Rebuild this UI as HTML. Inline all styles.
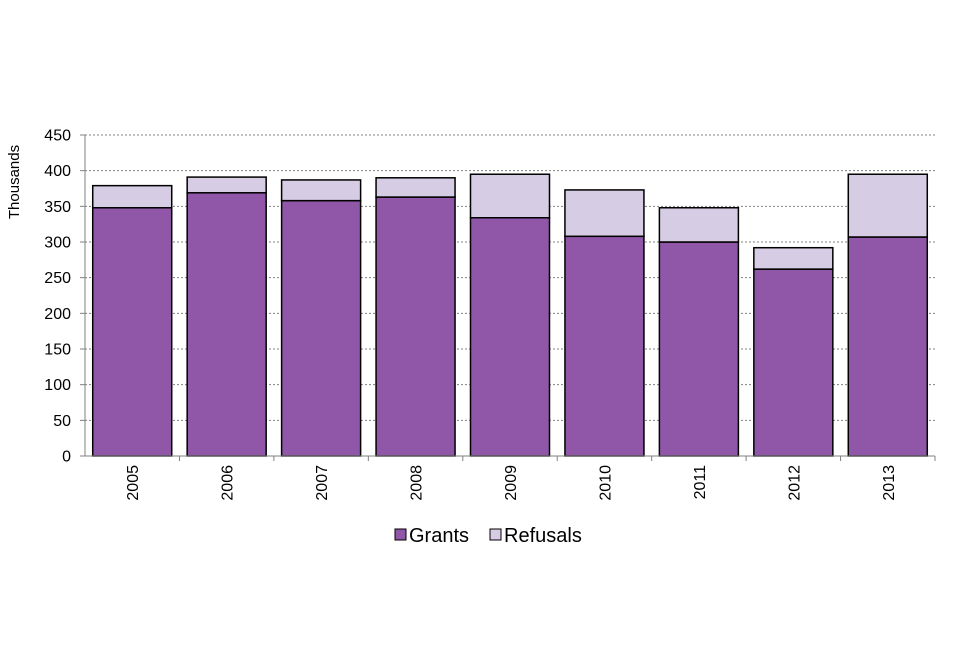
<!DOCTYPE html>
<html><head><meta charset="utf-8"><style>
body{margin:0;background:#fff;font-family:"Liberation Sans",Arial,sans-serif}
</style></head><body>
<svg id="chart" width="960" height="640" xmlns="http://www.w3.org/2000/svg" font-family="Liberation Sans, Arial, sans-serif"></svg>
<script>
const categories=["2005","2006","2007","2008","2009","2010","2011","2012","2013"];
const grants=[348,369,358,363,334,308,300,262,307];
const refusals=[31,22,29,27,61,65,48,30,88];
const yTicks=[0,50,100,150,200,250,300,350,400,450];
const NS="http://www.w3.org/2000/svg";
const svg=document.getElementById('chart');
const x0=85,x1=935,y0=456,y1=135,yMax=450;
const band=(x1-x0)/categories.length,bw=79;
const y=v=>y0-(v/yMax)*(y0-y1);
const bx=i=>x0+i*band+(band-bw)/2;
function mk(t,a,txt){const e=document.createElementNS(NS,t);for(const k in a)e.setAttribute(k,a[k]);if(txt!==undefined)e.textContent=txt;svg.appendChild(e);return e;}
yTicks.forEach(v=>{
 if(v>0){const g=mk('line',{x1:x0,x2:x1,y1:y(v),y2:y(v),stroke:'#808080','stroke-dasharray':'2,2','stroke-width':1});
 
 }
 const tk=mk('line',{x1:x0-5,x2:x0,y1:y(v),y2:y(v),stroke:'#808080'});
 
 
 const l=mk('text',{x:71,y:y(v)+5.5,'text-anchor':'end','font-size':16,fill:'#000'},v);
 
 
});
categories.forEach((c,i)=>{
 const g=mk('rect',{x:bx(i),y:y(grants[i]),width:bw,height:y(0)-y(grants[i]),fill:'#9057a8',stroke:'#000','stroke-width':1.5});
 
 
 const t=grants[i]+refusals[i];
 const r=mk('rect',{x:bx(i),y:y(t),width:bw,height:y(grants[i])-y(t),fill:'#d6cde4',stroke:'#000','stroke-width':1.5});
 
 
 const tk=mk('line',{x1:x0+(i+1)*band,x2:x0+(i+1)*band,y1:y0,y2:y0+5,stroke:'#808080'});
 
 
 const cx=x0+(i+0.5)*band+6;
 const l=mk('text',{x:cx,y:465,'text-anchor':'end','font-size':16,transform:`rotate(-90 ${cx} 465)`},c);
 
 
});
const ya=mk('line',{x1:x0,x2:x0,y1:y1,y2:y0,stroke:'#808080'});


const xa=mk('line',{x1:x0,x2:x1,y1:y0,y2:y0,stroke:'#808080'});


const yt=mk('text',{x:19,y:182,'text-anchor':'middle','font-size':15,transform:'rotate(-90 19 182)'},'Thousands');


const s1=mk('rect',{x:395,y:529,width:11,height:11,fill:'#9057a8',stroke:'#000'});


const t1=mk('text',{x:409,y:542,'font-size':20},'Grants');


const s2=mk('rect',{x:490,y:529,width:11,height:11,fill:'#d6cde4',stroke:'#000'});


const t2=mk('text',{x:504,y:542,'font-size':20},'Refusals');


</script>
</body></html>
